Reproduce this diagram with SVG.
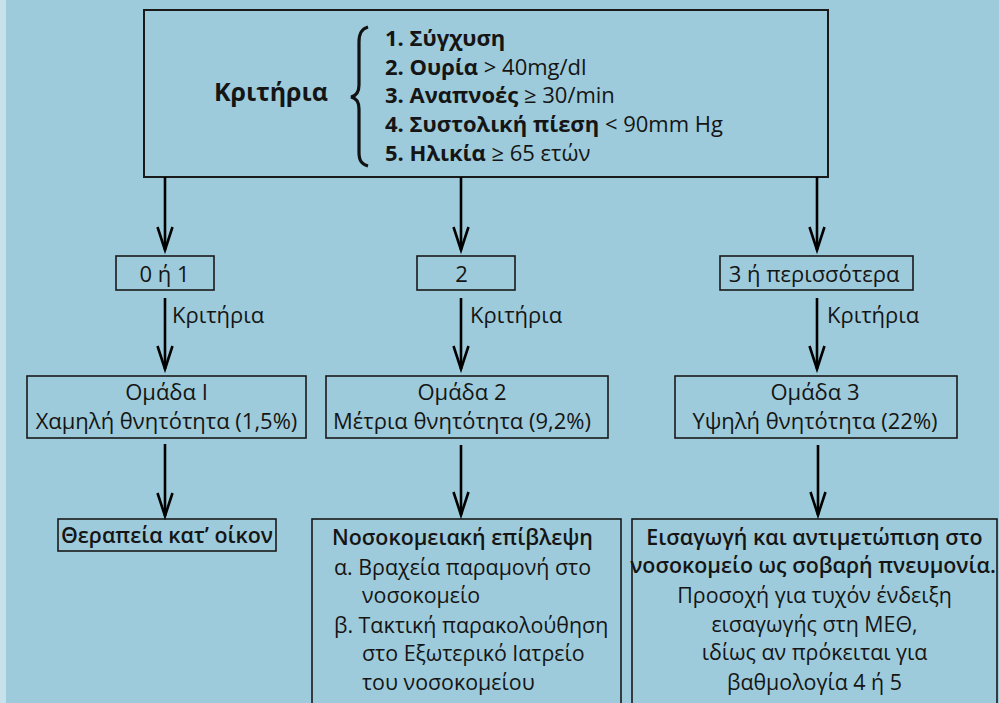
<svg xmlns="http://www.w3.org/2000/svg" width="999" height="703" viewBox="0 0 999 703">
<defs>
<style>
text{font-family:"Open Sans","Noto Sans","DejaVu Sans",sans-serif;fill:#151515;}
.t{font-size:22px;}
.s{font-size:21.4px;}
.c{text-anchor:middle;}
.b{font-weight:600;}
.bb{font-weight:700;}
.box{fill:none;stroke:#1a1a1a;stroke-width:1.6;}
.ar{fill:none;stroke:#000;stroke-width:2.6;marker-end:url(#v);}
</style>
<marker id="v" markerUnits="userSpaceOnUse" markerWidth="30" markerHeight="20" viewBox="-26 -10 30 20" refX="0" refY="0" orient="auto" overflow="visible">
<path d="M-23,-7.5 L0,0 L-23,7.5" fill="none" stroke="#000" stroke-width="2.6"/>
</marker>
</defs>
<rect x="0" y="0" width="999" height="703" fill="#9dcbdb"/>
<rect x="0" y="0" width="6" height="703" fill="#c8e2eb"/>

<g id="criteria">
<rect class="box" x="144" y="10" width="684" height="167" style="stroke-width:2"/>
<text x="214" y="101" style="font-size:25px" class="bb">Κριτήρια</text>
<path d="M368,27 C361,29 359,34 359,42 L359,85 C359,92 356,96 351,97 C356,98 359,102 359,109 L359,152 C359,160 361,164 368,166" fill="none" stroke="#111" stroke-width="3.2"/>
<text class="t" x="385" y="46"><tspan class="bb">1. Σύγχυση</tspan></text>
<text class="t" x="385" y="75"><tspan class="bb">2. Ουρία</tspan> &gt; 40mg/dl</text>
<text class="t" x="385" y="103"><tspan class="bb">3. Αναπνοές</tspan> ≥ 30/min</text>
<text class="t" x="385" y="132"><tspan class="bb">4. Συστολική πίεση</tspan> &lt; 90mm Hg</text>
<text class="t" x="385" y="161"><tspan class="bb">5. Ηλικία</tspan> ≥ 65 ετών</text>
</g>

<g id="n01">
<rect class="box" x="116" y="256" width="98" height="34"/>
<text class="t c" x="164.5" y="282">0 ή 1</text>
</g>
<g id="n2">
<rect class="box" x="417" y="256" width="98" height="34"/>
<text class="t c" x="461.5" y="282">2</text>
</g>
<g id="n3plus">
<rect class="box" x="720" y="256" width="193" height="34"/>
<text class="t c" x="814" y="282">3 ή περισσότερα</text>
</g>

<g id="group1">
<rect class="box" x="27" y="376" width="279" height="62"/>
<text class="t c" x="166.5" y="400">Ομάδα Ι</text>
<text class="t c" x="166.5" y="429">Χαμηλή θνητότητα (1,5%)</text>
</g>
<g id="group2">
<rect class="box" x="326" y="376" width="282" height="62"/>
<text class="t c" x="462" y="400">Ομάδα 2</text>
<text class="t c" x="462" y="429">Μέτρια θνητότητα (9,2%)</text>
</g>
<g id="group3">
<rect class="box" x="675" y="376" width="282" height="62"/>
<text class="t c" x="815" y="400">Ομάδα 3</text>
<text class="t c" x="815" y="429">Υψηλή θνητότητα (22%)</text>
</g>

<g id="home">
<rect class="box" x="58" y="519" width="218" height="32"/>
<text class="s b" x="273" y="543" text-anchor="end">Θεραπεία κατ’ οίκον</text>
</g>
<g id="hospital">
<rect class="box" x="312" y="519" width="309" height="200"/>
<text class="s b" x="332" y="545">Νοσοκομειακή επίβλεψη</text>
<text class="s" x="334" y="575">α. Βραχεία παραμονή στο</text>
<text class="s" x="362" y="603">νοσοκομείο</text>
<text class="s" x="334" y="633">β. Τακτική παρακολούθηση</text>
<text class="s" x="362" y="661">στο Εξωτερικό Ιατρείο</text>
<text class="s" x="362" y="690">του νοσοκομείου</text>
</g>
<g id="admission">
<rect class="box" x="632" y="519" width="365" height="200"/>
<text class="s c b" x="814.5" y="545">Εισαγωγή και αντιμετώπιση στο</text>
<text class="s c b" x="813" y="573">νοσοκομείο ως σοβαρή πνευμονία.</text>
<text class="s c" x="814.5" y="603">Προσοχή για τυχόν ένδειξη</text>
<text class="s c" x="814.5" y="632">εισαγωγής στη ΜΕΘ,</text>
<text class="s c" x="814.5" y="660">ιδίως αν πρόκειται για</text>
<text class="s c" x="814.5" y="690">βαθμολογία 4 ή 5</text>
</g>

<g id="connectors">
<line class="ar" x1="165" y1="177" x2="165" y2="250"/>
<line class="ar" x1="461" y1="177" x2="461" y2="250"/>
<line class="ar" x1="817" y1="177" x2="817" y2="250"/>
<line class="ar" x1="165" y1="298" x2="165" y2="369"/>
<line class="ar" x1="461" y1="298" x2="461" y2="369"/>
<line class="ar" x1="817" y1="298" x2="817" y2="369"/>
<line class="ar" x1="165" y1="444" x2="165" y2="516"/>
<line class="ar" x1="461" y1="445" x2="461" y2="515"/>
<line class="ar" x1="818" y1="445" x2="818" y2="515"/>
<text class="t" x="172" y="323">Κριτήρια</text>
<text class="t" x="470" y="323">Κριτήρια</text>
<text class="t" x="827" y="323">Κριτήρια</text>
</g>
</svg>
